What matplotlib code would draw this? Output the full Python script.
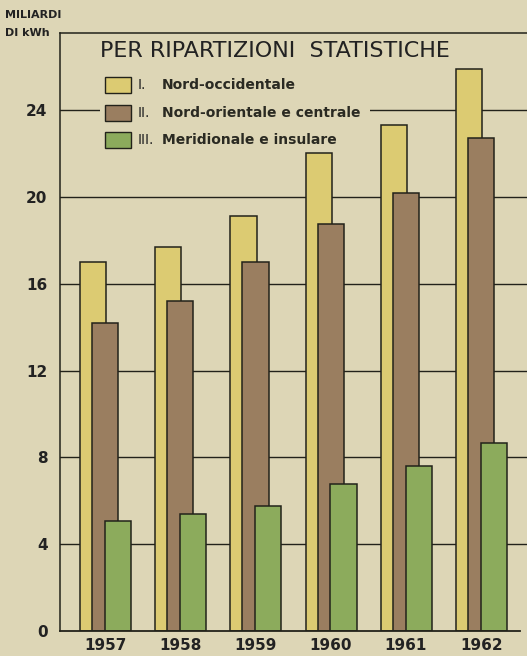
import numpy as np
import matplotlib
matplotlib.use("Agg")
import matplotlib.pyplot as plt
from matplotlib.patches import Rectangle

# data (miliardi di kWh)
YEARS = ["1957", "1958", "1959", "1960", "1961", "1962"]
NORD_OCC = [17.0, 17.7, 19.1, 22.0, 23.3, 25.9]
NORD_OR_CENTR = [14.2, 15.2, 17.0, 18.75, 20.2, 22.7]
MERID_INS = [5.05, 5.4, 5.75, 6.75, 7.6, 8.65]
SERIES_LABELS = ["Nord-occidentale", "Nord-orientale e centrale", "Meridionale e insulare"]
SERIES_NUMS = ["I.", "II.", "III."]
YTICKS = [0, 4, 8, 12, 16, 20, 24]

BG = "#ddd6b6"
COLORS = ["#dccb72", "#9a7e60", "#8cab5c"]
EDGE = "#22221a"

W, H = 527, 656
fig = plt.figure(figsize=(W / 100, H / 100), dpi=100, facecolor=BG)


def fx(px):
    return px / W


def fy(py):
    return 1 - py / H


ax = fig.add_axes([fx(60), fy(631), fx(527) - fx(60), fy(33) - fy(631)])
ax.set_facecolor(BG)
ax.set_ylim(0, 27.55)
ax.set_xlim(-0.6, 5.61)

x = np.arange(len(YEARS))
bw = 0.35
offsets = [-0.16, 0.0, 0.17]
for i, vals in enumerate([NORD_OCC, NORD_OR_CENTR, MERID_INS]):
    ax.bar(x + offsets[i], vals, width=bw, color=COLORS[i], edgecolor=EDGE,
           linewidth=1.1, zorder=3 + i)

for t in YTICKS[1:]:
    ax.axhline(t, color=EDGE, linewidth=1.0, zorder=1)

for s in ["right", "bottom"]:
    ax.spines[s].set_visible(False)
ax.spines["left"].set_linewidth(1.1)
ax.spines["top"].set_linewidth(1.1)
ax.spines["left"].set_color(EDGE)
ax.spines["top"].set_color(EDGE)
ax.plot([-0.6, 5.52], [0, 0], color=EDGE, linewidth=1.3, zorder=7, clip_on=False)

ax.set_xticks(x)
ax.set_xticklabels(YEARS, fontsize=11, fontweight="bold", color="#222")
ax.set_yticks(YTICKS)
ax.set_yticklabels([str(t) for t in YTICKS], fontsize=11, fontweight="bold", color="#222")
ax.tick_params(length=0, pad=9)
ax.tick_params(axis="x", pad=5)

fig.text(fx(5), fy(15), "MILIARDI", fontsize=8, fontweight="bold", va="center", color="#222")
fig.text(fx(5), fy(33), "DI kWh", fontsize=8, fontweight="bold", va="center", color="#222")

# legend drawn by hand
fig.text(fx(100), fy(51), "PER RIPARTIZIONI  STATISTICHE", fontsize=16, va="center", color="#222")
rows = [85, 113, 140]
for i, lab in enumerate(SERIES_LABELS):
    fig.patches.append(Rectangle((fx(105), fy(rows[i] + 8)), fx(26), fy(0) - fy(16),
                                 transform=fig.transFigure, facecolor=COLORS[i],
                                 edgecolor=EDGE, linewidth=1.0, zorder=10))
    fig.text(fx(138), fy(rows[i]), SERIES_NUMS[i], fontsize=10, va="center", color="#222", zorder=10)
    fig.text(fx(162), fy(rows[i]), lab, fontsize=10, fontweight="bold", va="center", color="#2a2a22",
             zorder=10, bbox=dict(facecolor=BG, edgecolor="none", pad=2))
fig.patches.append(Rectangle((fx(100), fy(118)), fx(270), fy(0) - fy(16),
                             transform=fig.transFigure, facecolor=BG, edgecolor="none", zorder=9))

fig.savefig("out.png", dpi=100, facecolor=BG)
